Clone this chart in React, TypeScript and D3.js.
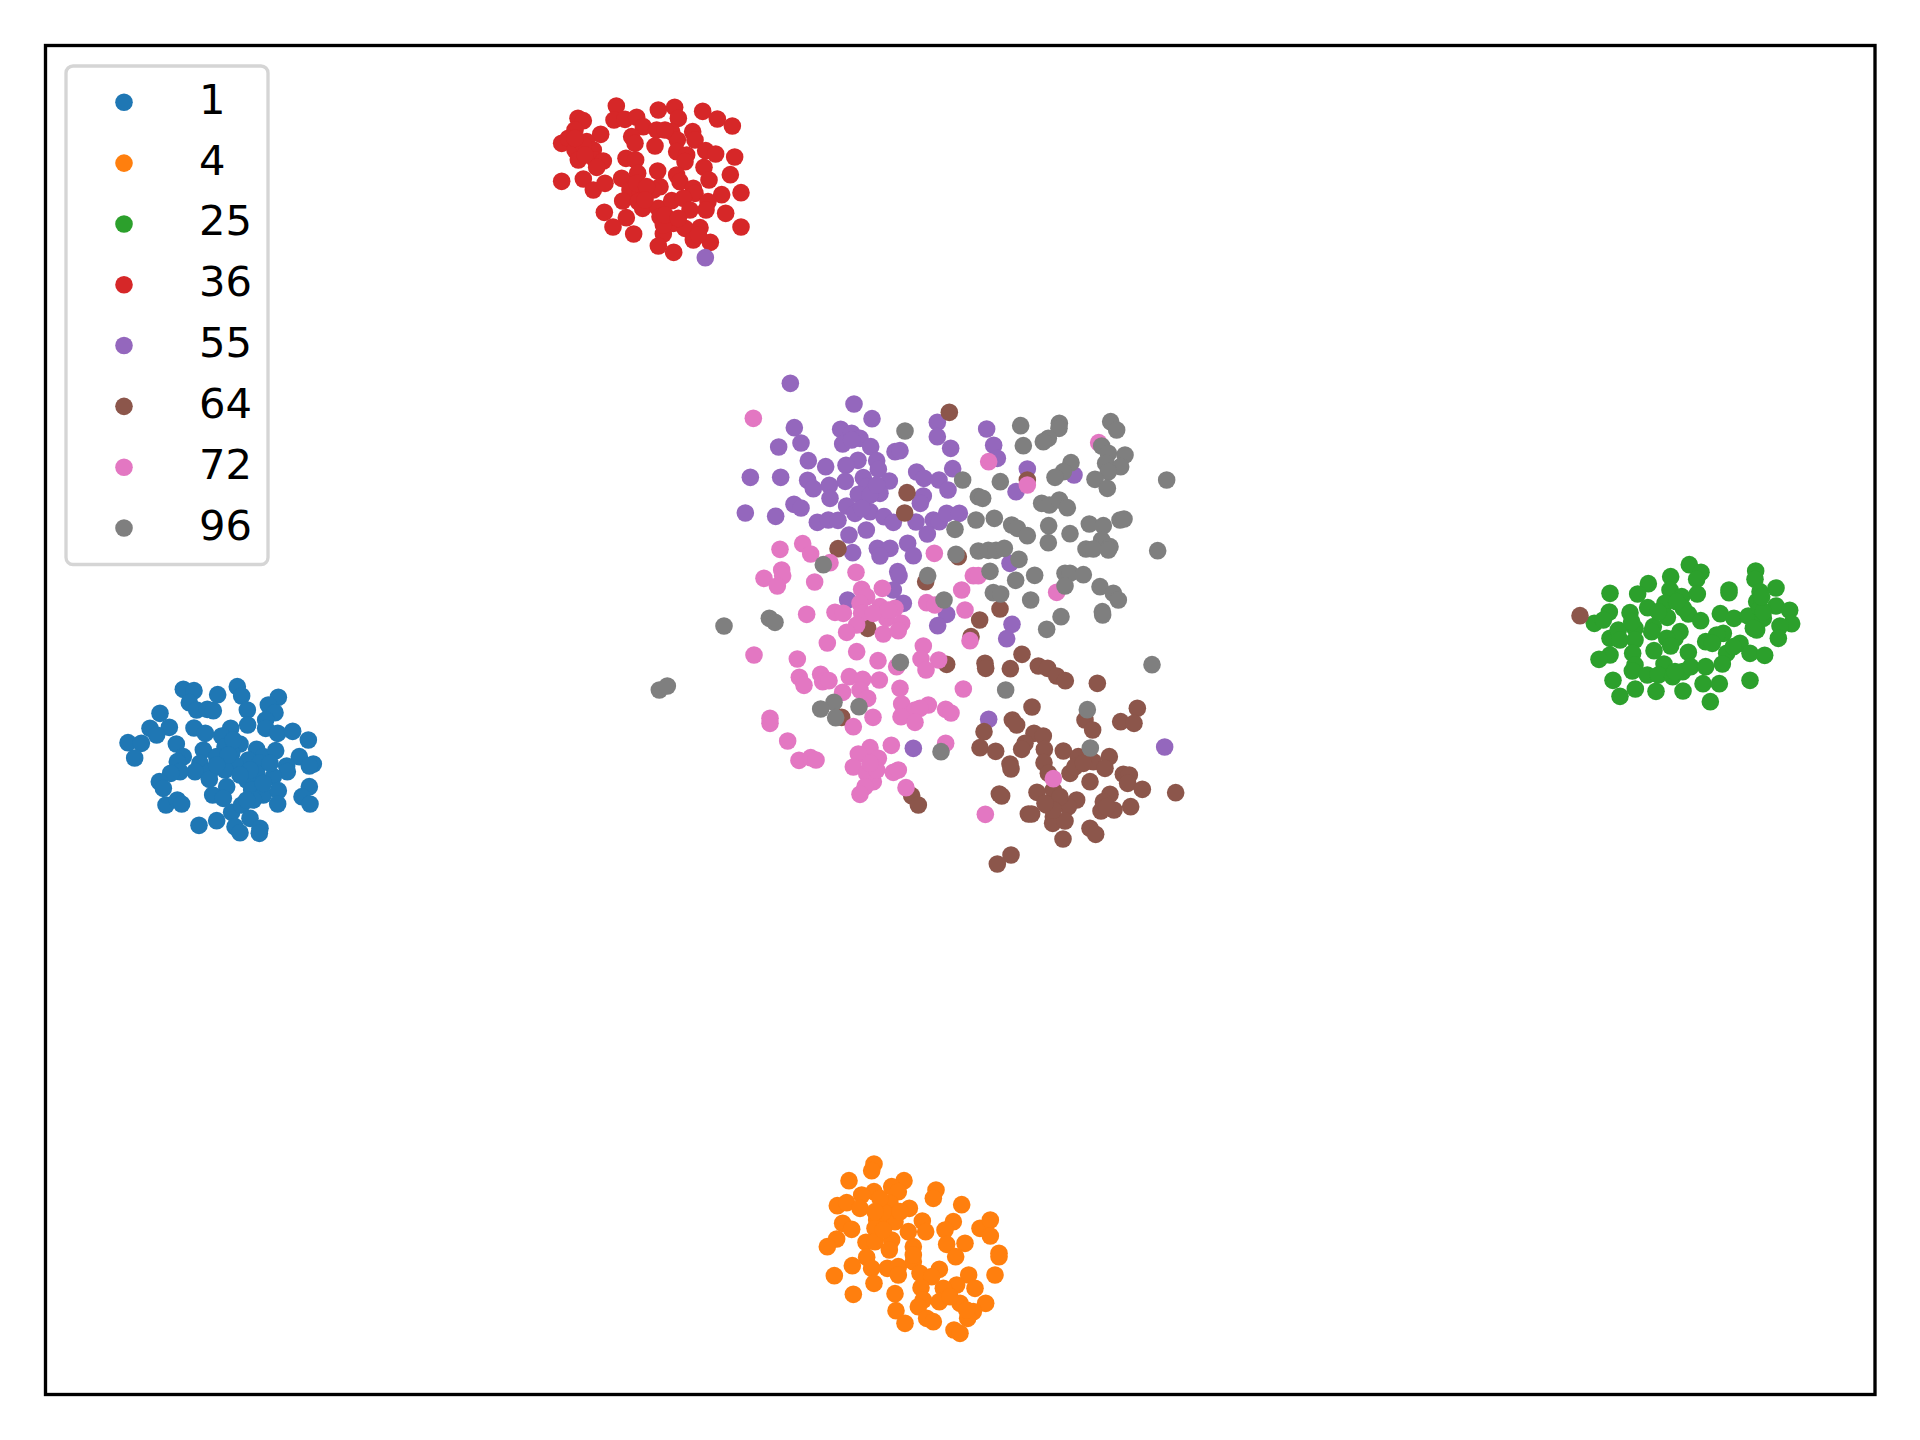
import React from "react";
import * as d3 from "d3";

type P = [number, number];
const read = (ox: number, oy: number, pts: P[]): P[] => pts.map(([a, b]) => [ox + a / 3, oy + b / 3] as P);

const labels = ["1", "4", "25", "36", "55", "64", "72", "96"];
const colors = ["#1f77b4", "#ff7f0e", "#2ca02c", "#d62728", "#9467bd", "#8c564b", "#e377c2", "#7f7f7f"];

const s1: P[] = read(100, 660, [[250,88],[282,92],[268,128],[290,150],[322,148],[340,152],[353,104],[412,80],[425,108],[442,150],[443,195],[535,112],[505,135],[525,158],[497,180],[497,205],[533,220],[578,214],[625,240],[180,160],[150,205],[208,202],[170,225],[84,248],[124,250],[104,294],[229,252],[282,204],[316,220],[392,205],[365,228],[375,260],[420,252],[250,290],[232,305],[310,270],[300,310],[350,290],[395,280],[470,268],[490,290],[527,272],[598,290],[640,312],[628,318],[560,318],[562,335],[445,300],[480,310],[405,315],[375,330],[330,335],[285,335],[240,335],[212,340],[178,365],[190,385],[198,435],[232,420],[245,432],[328,358],[380,380],[338,405],[370,415],[395,457],[425,435],[440,360],[470,340],[520,350],[455,390],[490,405],[535,392],[533,432],[628,380],[606,410],[630,432],[450,475],[480,505],[478,520],[405,500],[420,518],[297,496],[350,482],[460,420],[400,240],[385,285],[450,330],[420,345],[510,310],[350,315],[490,370],[440,420]]);

const s4: P[] = read(800, 1140, [[222,72],[215,92],[147,122],[312,122],[275,140],[295,155],[222,155],[185,165],[408,150],[400,175],[485,194],[112,197],[140,188],[180,205],[245,190],[270,190],[328,205],[230,240],[260,225],[285,245],[367,243],[460,245],[128,250],[155,268],[225,265],[377,275],[325,275],[435,270],[540,265],[571,240],[571,288],[110,297],[82,320],[198,307],[225,305],[275,300],[268,330],[340,320],[440,313],[495,310],[467,350],[597,340],[597,350],[200,352],[157,377],[103,407],[215,385],[262,385],[295,380],[340,365],[295,405],[222,430],[360,400],[418,388],[395,410],[585,405],[506,405],[525,445],[470,435],[430,445],[363,443],[285,461],[160,463],[288,512],[315,550],[370,480],[355,500],[418,485],[480,490],[557,490],[520,515],[503,535],[380,535],[400,545],[462,570],[480,580],[250,270],[250,215],[240,175],[300,215],[340,345],[450,470],[500,510],[225,215]]);

const s25: P[] = read(1560, 540, [[388,74],[423,97],[410,118],[587,93],[585,118],[332,110],[265,131],[233,162],[150,160],[330,150],[365,170],[412,162],[507,150],[507,158],[648,144],[600,155],[590,185],[315,190],[263,203],[148,216],[210,218],[103,250],[130,240],[322,232],[385,222],[422,242],[481,221],[522,235],[565,228],[610,235],[648,198],[689,211],[695,251],[660,258],[655,295],[590,270],[490,280],[470,285],[540,310],[500,340],[487,372],[437,305],[457,310],[150,295],[175,270],[225,265],[225,300],[280,260],[275,275],[360,275],[345,295],[320,295],[332,318],[282,332],[218,340],[150,345],[117,358],[385,337],[225,375],[217,393],[312,372],[262,405],[295,405],[338,410],[368,395],[392,380],[437,380],[570,340],[614,346],[159,421],[226,447],[180,469],[288,454],[369,453],[429,431],[478,431],[570,421],[451,485],[600,205],[580,265],[370,205],[350,185],[610,215],[215,245],[180,300],[295,215],[520,320],[605,170],[345,395]]);

const s36: P[] = read(540, 80, [[229,78],[355,90],[404,82],[488,94],[532,117],[577,138],[114,115],[130,122],[222,120],[255,118],[290,112],[415,115],[310,140],[350,150],[395,155],[458,155],[182,163],[105,150],[65,190],[85,175],[140,185],[275,170],[285,190],[345,198],[412,180],[465,180],[497,212],[527,222],[584,231],[105,210],[160,210],[115,240],[165,240],[190,243],[170,262],[258,235],[287,240],[410,215],[440,225],[435,245],[492,262],[65,304],[130,297],[160,330],[195,310],[245,295],[293,280],[353,273],[410,285],[420,305],[507,300],[571,284],[603,338],[545,344],[460,325],[465,340],[360,320],[340,330],[270,330],[300,335],[248,363],[295,365],[308,385],[355,385],[395,362],[430,355],[504,365],[498,390],[450,390],[557,400],[193,397],[259,413],[219,441],[281,462],[360,410],[400,430],[435,445],[480,443],[603,441],[370,462],[460,480],[511,487],[355,498],[401,517],[370,435],[130,195],[135,225],[105,175],[290,310],[320,320],[375,150],[315,360],[375,405],[415,415],[475,465]]);

const s55: P[] = [
  ...read(720, 370, [[211,40],[402,102],[456,146],[223,173],[652,157],[243,219],[176,231],[652,200],[692,235],[362,178],[395,190],[420,205],[452,230],[368,222],[525,245],[540,242],[470,272],[475,298],[414,271],[378,286],[265,272],[317,290],[698,296],[590,306],[612,325],[657,330],[684,360],[91,322],[182,322],[263,331],[280,356],[328,346],[330,385],[376,334],[430,323],[508,333],[480,370],[440,350],[415,373],[610,378],[601,400],[222,403],[243,414],[380,408],[405,430],[450,425],[492,440],[520,457],[76,429],[167,439],[292,457],[325,450],[354,451],[588,456],[640,450],[658,455],[680,430],[718,430],[622,492],[387,495],[398,548],[439,480],[472,535],[510,535],[480,558],[563,520],[580,557],[533,605],[537,618],[520,660],[383,690],[550,700],[395,210],[450,375],[470,345],[425,415]]),
  ...read(960, 370, [[80,177],[101,226],[112,265],[202,297],[168,365],[342,315],[150,580]]),
  ...read(960, 590, [[156,103],[140,146],[86,388],[614,471]]),
  ...read(640, 560, [[920,163],[893,197],[820,565]]),
  ...read(540, 80, [[496,533]]),
];

const s64: P[] = [
  ...read(720, 370, [[688,127],[561,368],[554,429],[354,536],[715,560],[617,635]]),
  ...read(640, 560, [[683,205],[920,313],[605,472],[815,707],[835,735]]),
  ...read(960, 370, [[202,330]]),
  ...read(960, 590, [[120,57],[59,90],[33,140],[186,193],[75,220],[77,235],[151,236],[235,228],[263,235],[290,258],[316,272],[412,280],[216,351],[157,390],[170,405],[375,390],[398,420],[532,355],[482,395],[522,400],[72,425],[60,473],[107,484],[222,430],[250,438],[195,460],[185,478],[253,478],[252,518],[310,483],[150,522],[153,537],[265,550],[330,550],[355,500],[345,530],[400,515],[448,500],[435,535],[390,575],[490,553],[508,555],[503,580],[547,598],[280,600],[647,608],[118,612],[125,618],[231,607],[205,672],[215,672],[260,645],[285,640],[350,630],[325,650],[450,613],[430,635],[423,663],[462,660],[512,650],[280,680],[278,700],[315,693],[390,715],[407,733],[309,747],[153,795],[112,822],[300,620],[370,520],[280,660],[440,650],[255,640]]),
  ...read(1560, 540, [[60,227]]),
];

const s72: P[] = [
  ...read(720, 370, [[100,145],[180,538],[248,521],[272,552],[330,578],[132,625],[185,600],[188,617],[172,648],[284,636],[408,607],[643,550]]),
  ...read(960, 370, [[416,218],[86,275],[202,345],[40,617],[55,617],[290,667]]),
  ...read(640, 560, [[665,88],[727,85],[965,90],[680,110],[660,130],[860,128],[885,135],[975,150],[500,163],[585,157],[610,160],[720,140],[765,145],[665,160],[740,175],[785,190],[650,195],[620,217],[730,222],[775,212],[562,249],[650,275],[850,258],[990,242],[342,285],[472,297],[714,302],[770,320],[843,297],[896,300],[858,330],[478,352],[492,376],[542,343],[548,365],[567,362],[628,350],[668,358],[718,360],[608,397],[660,390],[683,415],[780,385],[970,387],[785,432],[825,450],[865,435],[840,445],[917,448],[933,459],[783,470],[825,487],[390,475],[390,490],[699,472],[640,500],[443,543],[477,601],[512,593],[528,600],[690,563],[655,582],[715,595],[754,556],[917,550],[640,621],[690,635],[700,665],[680,640],[710,630],[760,637],[775,630],[798,683],[675,680],[660,703],[700,160],[745,150],[690,610]]),
  ...read(960, 590, [[280,566],[76,673]]),
];

const s96: P[] = [
  ...read(720, 370, [[705,478],[708,553],[672,690],[623,617],[555,183],[310,584]]),
  ...read(960, 370, [[182,167],[190,227],[298,160],[297,175],[265,205],[250,215],[452,155],[470,180],[425,228],[445,250],[495,255],[437,280],[482,290],[445,305],[405,328],[442,355],[620,330],[333,278],[310,305],[285,322],[121,335],[8,330],[55,380],[68,385],[245,400],[268,405],[298,390],[322,413],[155,465],[172,475],[202,497],[266,467],[265,518],[330,491],[103,445],[48,450],[388,462],[430,467],[425,510],[378,537],[400,537],[450,530],[445,540],[480,450],[492,447],[593,542],[55,543],[85,541],[108,541],[133,535],[177,568],[90,604],[167,631],[224,616],[315,610],[330,610],[370,614],[315,648],[420,650],[460,670],[475,690],[100,668],[122,672],[212,690]]),
  ...read(640, 560, [[252,198],[388,175],[405,187],[58,390],[82,378],[781,307],[582,427],[542,447],[587,473],[657,440],[903,575]]),
  ...read(960, 590, [[303,80],[260,118],[427,65],[428,75],[576,224],[137,300],[382,359],[391,474]]),
];

const seriesValues: P[][] = [s1, s4, s25, s36, s55, s64, s72, s96];

const frame = { left: 45.5, right: 1875, top: 45.5, bottom: 1394.5 };
const x = d3.scaleLinear().domain([frame.left, frame.right]).range([frame.left, frame.right]);
const y = d3.scaleLinear().domain([frame.top, frame.bottom]).range([frame.top, frame.bottom]);
const legendY = d3.scaleLinear().domain([0, 7]).range([102.3, 528]);
const R = 8.8;

export default function App() {
  return (
    <svg width={1920} height={1440} viewBox="0 0 1920 1440"
      style={{ position: "absolute", left: 0, top: 0, display: "block", background: "#fff" }}>
      <g>
        {seriesValues.map((pts, i) => (
          <g key={labels[i]} fill={colors[i]}>
            {pts.map((p, j) => <circle key={j} cx={x(p[0])} cy={y(p[1])} r={R} />)}
          </g>
        ))}
      </g>
      <rect x={frame.left} y={frame.top} width={frame.right - frame.left} height={frame.bottom - frame.top}
        fill="none" stroke="#000" strokeWidth={3.33} />
      <rect x={66} y={66} width={202} height={498.5} rx={7} ry={7} fill="#fff" fillOpacity={0.8}
        stroke="#d5d5d5" strokeWidth={3.33} />
      {labels.map((l, i) => (
        <g key={l}>
          <circle cx={124} cy={legendY(i)} r={R} fill={colors[i]} />
          <text x={199} y={legendY(i) + 11.5} fontFamily="'DejaVu Sans'" fontSize={41.67} fill="#000">{l}</text>
        </g>
      ))}
    </svg>
  );
}
